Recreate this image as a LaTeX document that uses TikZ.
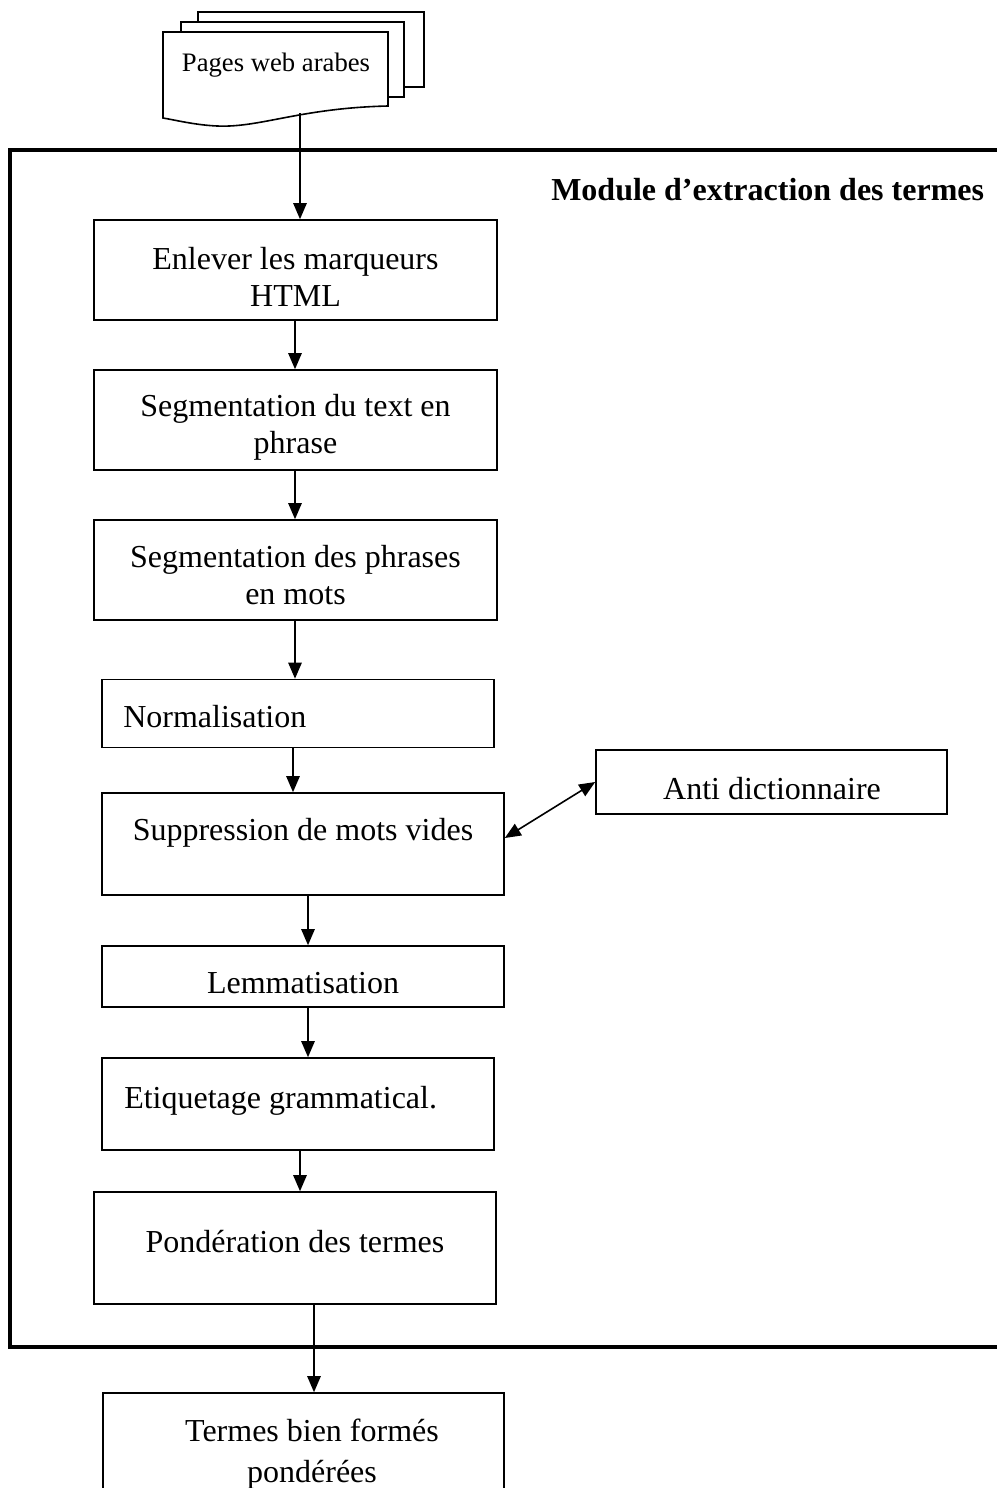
\documentclass[tikz,border=0pt]{standalone}
\usepackage{fontspec}
\setmainfont{Liberation Serif}
\usetikzlibrary{arrows.meta,calc}
\begin{document}
\begin{tikzpicture}[x=0.75pt,y=-0.75pt,
  box/.style={draw,line width=1.2pt,inner sep=0pt},
  lbl/.style={font=\fontsize{24}{28}\selectfont,align=center,inner sep=0pt},
  arr/.style={line width=1.2pt,-{Triangle[length=12pt,width=10pt]}},
  dblarr/.style={line width=1.2pt,{Triangle[length=12pt,width=10pt]}-{Triangle[length=12pt,width=10pt]}}]
\useasboundingbox (0,0) rectangle (996,1488);

% stacked pages of the input document
\draw[line width=1.2pt,fill=white] (198,12) rectangle (424,87);
\draw[line width=1.2pt,fill=white] (181,22) rectangle (404,97);
\draw[line width=1.2pt,fill=white] (163,32) -- (388,32) -- (388,106)
  .. controls (300,108) and (260,128) .. (217,126)
  .. controls (195,125) and (175,120) .. (163,118) -- cycle;
\node[font=\fontsize{20}{24}\selectfont,inner sep=0pt] (doc) at (276,65) {Pages web arabes};
\coordinate (docbot) at (300,113);

% module frame
\draw[line width=3.4pt] (1010,150) -- (10,150) -- (10,1347) -- (1010,1347);
\node[font=\fontsize{24}{28}\selectfont\bfseries,anchor=west,inner sep=0pt] (title) at (551,190) {Module d’extraction des termes};

% processing steps
\node[box,minimum width=302.25pt,minimum height=75pt] (b1) at (295.5,270) {};
\node[lbl] (t1) at (295.5,277) {Enlever les marqueurs\\HTML};
\node[box,minimum width=302.25pt,minimum height=75pt] (b2) at (295.5,420) {};
\node[lbl] (t2) at (295.5,427) {Segmentation du text en\\phrase};
\node[box,minimum width=302.25pt,minimum height=75pt] (b3) at (295.5,570) {};
\node[lbl] (t3) at (295.5,575) {Segmentation des phrases\\en mots};
\node[box,minimum width=294pt,minimum height=51pt] (b4) at (298,713.5) {};
\node[lbl,anchor=west] (t4) at (123,717) {Normalisation};
\node[box,minimum width=301.5pt,minimum height=76.5pt] (b5) at (303,844) {};
\node[lbl] (t5) at (303,833) {Suppression de mots vides};
\node[box,minimum width=263.25pt,minimum height=48pt] (anti) at (771.5,782) {};
\node[lbl] (ta) at (772,789) {Anti dictionnaire};
\node[box,minimum width=301.5pt,minimum height=45.75pt] (b6) at (303,976.5) {};
\node[lbl] (t6) at (303,983) {Lemmatisation};
\node[box,minimum width=294pt,minimum height=69pt] (b7) at (298,1104) {};
\node[lbl,anchor=west] (t7) at (124,1101) {Etiquetage grammatical.};
\node[box,minimum width=301.5pt,minimum height=84pt] (b8) at (295,1248) {};
\node[lbl] (t8) at (295,1242) {Pondération des termes};
\node[box,minimum width=300.75pt,minimum height=80.25pt] (out) at (303.5,1446.5) {};
\node[lbl] (to) at (312,1454) {Termes bien formés\\[3pt]pondérées};

% connectors
\draw[arr] (docbot) -- (docbot |- b1.north);
\draw[arr] (b1.south -| 295,0) -- (b2.north -| 295,0);
\draw[arr] (b2.south -| 295,0) -- (b3.north -| 295,0);
\draw[arr] (b3.south -| 295,0) -- (b4.north -| 295,0);
\draw[arr] (b4.south -| 293,0) -- (b5.north -| 293,0);
\draw[arr] (b5.south -| 308,0) -- (b6.north -| 308,0);
\draw[arr] (b6.south -| 308,0) -- (b7.north -| 308,0);
\draw[arr] (b7.south -| 300,0) -- (b8.north -| 300,0);
\draw[arr] (b8.south -| 314,0) -- (out.north -| 314,0);
\draw[dblarr] ($(b5.east)+(0,-6)$) -- (anti.west);
\end{tikzpicture}
\end{document}
